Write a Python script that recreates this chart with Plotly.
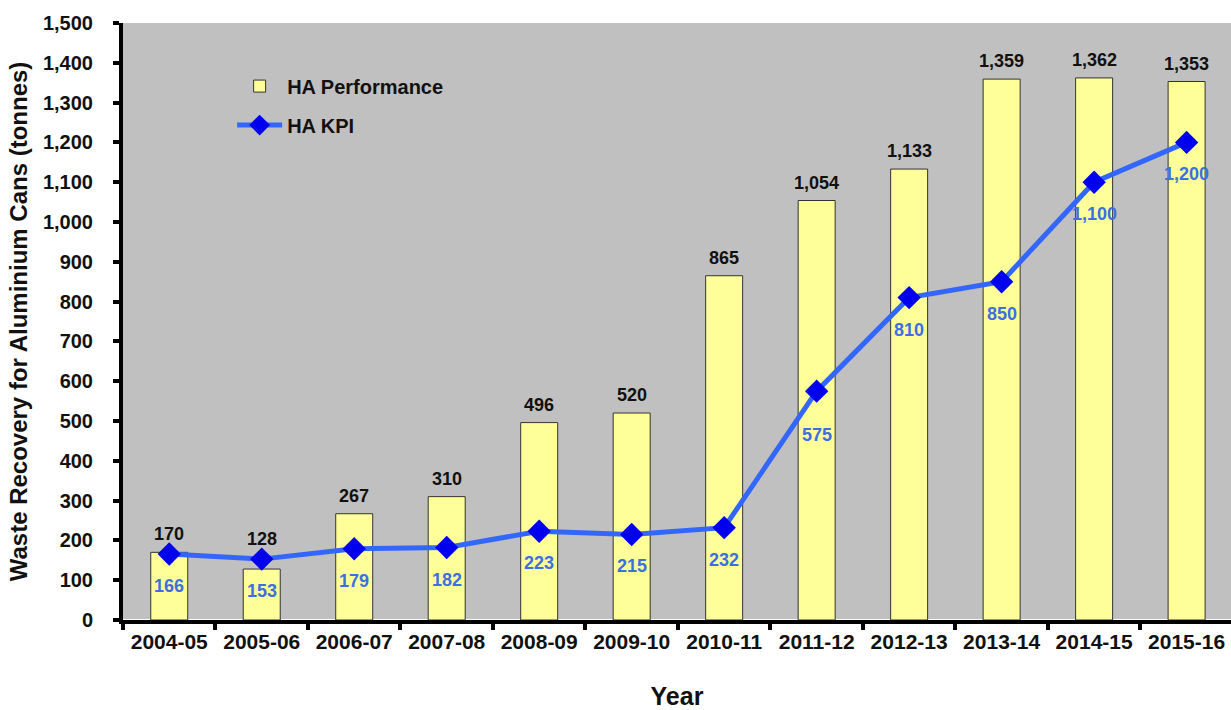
import plotly.graph_objects as go

years = ["2004-05", "2005-06", "2006-07", "2007-08", "2008-09", "2009-10",
         "2010-11", "2011-12", "2012-13", "2013-14", "2014-15", "2015-16"]
performance = [170, 128, 267, 310, 496, 520, 865, 1054, 1133, 1359, 1362, 1353]
kpi = [166, 153, 179, 182, 223, 215, 232, 575, 810, 850, 1100, 1200]

# label nudges (pixels) seen in the original where labels were moved by hand
perf_label_nudge = [0, 12, 0, 0, 0, 0, 0, 0, 0, 0, 0, 0]
kpi_label_nudge = [0, 0, 0, 0, 0, 0, 0, -12, 0, 0, 0, 0]

FONT = "Liberation Sans, Arial, sans-serif"

fig = go.Figure()
fig.add_trace(go.Bar(
    x=years, y=performance, name="<b>HA Performance</b>", width=0.4,
    legendgroup="perf",
    marker=dict(color="#FFFF99", line=dict(color="#333333", width=1)),
))
fig.add_trace(go.Scatter(
    x=years, y=kpi, name="<b>HA KPI</b>", mode="lines+markers",
    legendgroup="kpi",
    line=dict(color="#3366FF", width=5),
    marker=dict(symbol="diamond", size=18, color="#0000EE"),
))

annotations = []
for x, v, n in zip(years, performance, perf_label_nudge):
    annotations.append(dict(x=x, y=v, text=f"<b>{v:,}</b>", showarrow=False,
                            yanchor="bottom", yshift=6 + n,
                            font=dict(family=FONT, size=18, color="#111111")))
for x, v, n in zip(years, kpi, kpi_label_nudge):
    annotations.append(dict(x=x, y=v, text=f"<b>{v:,}</b>", showarrow=False,
                            yanchor="middle", yshift=-32 + n,
                            font=dict(family=FONT, size=18, color="#3D6FE0")))

fig.update_layout(
    width=1231, height=710,
    margin=dict(l=123, r=0, t=23, b=90, autoexpand=False),
    paper_bgcolor="white", plot_bgcolor="#C0C0C0",
    font=dict(family=FONT, color="#111111"),
    showlegend=True,
    legend=dict(x=0.0985, y=0.927, xanchor="left", yanchor="top",
                bgcolor="rgba(0,0,0,0)", font=dict(size=20, family=FONT),
                tracegroupgap=10, itemwidth=45),
    annotations=annotations,
)
fig.update_xaxes(
    type="category", range=[-0.5, 11.48], showgrid=False, tickson="boundaries",
    ticks="outside", ticklen=6, tickwidth=4, tickcolor="black",
    showline=True, linewidth=4, linecolor="black", automargin=False,
    tickfont=dict(size=21, family=FONT), tickprefix="<b>", ticksuffix="</b>",
    title=dict(text="<b>Year</b>", font=dict(size=25, family=FONT), standoff=42),
)
fig.update_yaxes(
    range=[0, 1500], dtick=100, showgrid=False, tickformat=",d",
    ticks="outside", ticklen=6, tickwidth=4, tickcolor="black",
    showline=True, linewidth=4, linecolor="black", automargin=False,
    tickfont=dict(size=20, family=FONT), tickprefix="<b>", ticksuffix="</b>",
    ticklabelstandoff=16,
    title=dict(text="<b>Waste Recovery for Aluminium Cans (tonnes)</b>",
               font=dict(size=24, family=FONT), standoff=10),
)

fig.write_html("out.html", config={"displayModeBar": False},
               post_script="document.body.style.margin='0';")
